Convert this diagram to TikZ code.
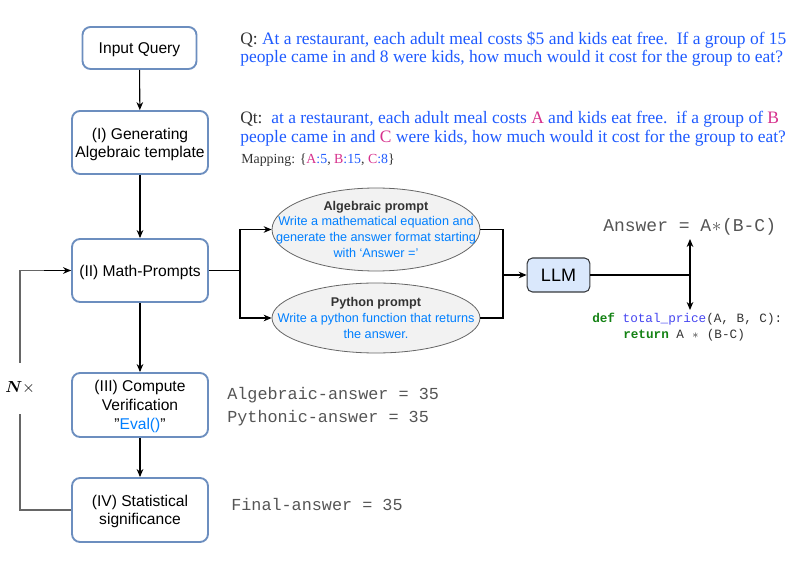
\documentclass[tikz,border=0pt]{standalone}
\usepackage{fontspec}
\usepackage{amsmath,amssymb}
\setmainfont{Liberation Serif}
\setsansfont{Liberation Sans}
\setmonofont{Liberation Mono}
\usetikzlibrary{shapes.geometric,arrows.meta}
\definecolor{boxblue}{HTML}{6C8EBF}
\definecolor{llmfill}{HTML}{DAE8FC}
\definecolor{llmdraw}{HTML}{36393D}
\definecolor{ellfill}{HTML}{F2F2F2}
\definecolor{elldraw}{HTML}{666666}
\definecolor{promptblue}{HTML}{007FFF}
\definecolor{qblue}{RGB}{30,90,255}
\definecolor{qmag}{RGB}{214,48,140}
\definecolor{qdark}{HTML}{333333}
\definecolor{monogray}{HTML}{555555}
\definecolor{codegreen}{RGB}{20,130,20}
\definecolor{codeblue}{RGB}{70,70,240}
\definecolor{loopgray}{HTML}{666666}
\tikzset{
  stagebox/.style={draw=boxblue, line width=1.4pt, rounded corners=6pt, fill=white,
    align=center, font=\sffamily\fontsize{11.7}{13.5}\selectfont, inner sep=2pt, text depth=0pt},
  promptell/.style={ellipse, draw=elldraw, fill=ellfill, line width=0.6pt,
    minimum width=156pt, align=center, inner xsep=-22pt, inner ysep=-8pt},
  llmbox/.style={draw=llmdraw, fill=llmfill, line width=0.8pt, rounded corners=4pt,
    minimum width=47pt, minimum height=25.5pt, font=\sffamily\fontsize{13.5}{15}\selectfont},
  conn/.style={line width=0.8pt, black},
  arr/.style={conn, -{Stealth[length=6pt,width=5pt]}},
  qtext/.style={anchor=base west, inner sep=0pt, font=\fontsize{13.1}{15}\selectfont, text=qblue},
  monotext/.style={anchor=base west, inner sep=0pt, font=\ttfamily\fontsize{12.6}{14}\selectfont, text=monogray},
  codetext/.style={anchor=base west, inner sep=0pt, font=\ttfamily\fontsize{9.5}{11}\selectfont, text=qdark},
}
\begin{document}
\begin{tikzpicture}[x=0.75pt,y=-0.75pt]
\useasboundingbox (0,0) rectangle (804,577);

% stage boxes
\node[stagebox, minimum width=85.5pt, minimum height=31.5pt] (input) at (139.5,48) {Input Query};
\node[stagebox, minimum width=102pt, minimum height=47.25pt] (gen) at (140,142.5) {(I) Generating\\Algebraic template};
\node[stagebox, minimum width=102pt, minimum height=47.25pt] (math) at (140,270.5) {(II) Math-Prompts};
\node[stagebox, minimum width=102pt, minimum height=48pt, font=\sffamily\fontsize{11.7}{14}\selectfont] (comp) at (140,405) {(III) Compute\\Verification\\"\textcolor{promptblue}{Eval()}"};
\node[stagebox, minimum width=102pt, minimum height=48pt] (stat) at (140,510) {(IV) Statistical\\significance};

% prompt ellipses
\node[promptell, minimum height=62.25pt, font=\sffamily\fontsize{9.5}{12}\selectfont] (alg) at (376,229.5)
  {\textbf{\textcolor{qdark}{Algebraic prompt}}\\[-0.5pt]\textcolor{promptblue}{Write a mathematical equation and}\\\textcolor{promptblue}{generate the answer format starting}\\\textcolor{promptblue}{with `Answer ='}};
\node[promptell, minimum height=52.5pt, font=\sffamily\fontsize{9.5}{12}\selectfont] (py) at (376,318)
  {\textbf{\textcolor{qdark}{Python prompt}}\\\textcolor{promptblue}{Write a python function that returns}\\\textcolor{promptblue}{the answer.}};

% LLM
\node[llmbox] (llm) at (558.5,275) {LLM};

% loop label
\node[inner sep=1pt, font=\fontsize{12}{14}\selectfont] (nx) at (20,388) {$\boldsymbol{N}{\times}$};

% coordinates
\coordinate (split) at (240,270.5);
\coordinate (join) at (503,275);
\coordinate (tee) at (690,275);
\coordinate (ansup) at (690,239);
\coordinate (ansdown) at (690,310);
\coordinate (looptop) at (20,363);
\coordinate (loopbot) at (20,414);

% vertical flow
\draw[arr] (input) -- (gen);
\draw[arr] (gen) -- (math);
\draw[arr] (math) -- (comp);
\draw[arr] (comp) -- (stat);

% loop
\draw[line width=0.8pt, loopgray] (stat.west) -| (loopbot);
\draw[line width=0.8pt, loopgray] (looptop) |- (math.west);
\draw[arr] ([xshift=-20pt]math.west) -- (math.west);

% prompts
\draw[conn] (math.east) -- (split);
\draw[arr] (split) |- (alg.west);
\draw[arr] (split) |- (py.west);
\draw[conn] (alg.east) -| (join);
\draw[conn] (py.east) -| (join);
\draw[arr] (join) -- (llm.west);
\draw[conn] (llm.east) -- (tee);
\draw[conn, {Stealth[length=6pt,width=5pt]}-{Stealth[length=6pt,width=5pt]}] (ansup) -- (ansdown);

% question texts
\node[qtext] (q1) at (240,45) {\textcolor{qdark}{Q:} At a restaurant, each adult meal costs \$5 and kids eat free.\ \ If a group of 15};
\node[qtext] (q2) at (240,63) {people came in and 8 were kids, how much would it cost for the group to eat?};
\node[qtext] (qt1) at (240,124) {\textcolor{qdark}{Qt:}\ \ at a restaurant, each adult meal costs \textcolor{qmag}{A} and kids eat free.\ \ if a group of \textcolor{qmag}{B}};
\node[qtext] (qt2) at (240,143) {people came in and \textcolor{qmag}{C} were kids, how much would it cost for the group to eat?};
\node[qtext, text=qdark, font=\fontsize{10.4}{12}\selectfont] (map) at (241,164) {Mapping: \{\textcolor{qmag}{A}\textcolor{qblue}{:5}, \textcolor{qmag}{B}\textcolor{qblue}{:15}, \textcolor{qmag}{C}\textcolor{qblue}{:8}\}};

% answers
\node[monotext, font=\ttfamily\fontsize{13.5}{15}\selectfont] (ans) at (603,232) {Answer = A\makebox[0.6em]{$\ast$}(B-C)};
\node[codetext] (code1) at (592,323) {\textbf{\textcolor{codegreen}{def}} \textcolor{codeblue}{total\_price}(A, B, C):};
\node[codetext] (code2) at (623,339) {\textbf{\textcolor{codegreen}{return}} A \makebox[0.6em]{$\ast$} (B-C)};
\node[monotext] (aa) at (227,400) {Algebraic-answer = 35};
\node[monotext] (pa) at (227,423) {Pythonic-answer = 35};
\node[monotext] (fa) at (231,510) {Final-answer = 35};
\end{tikzpicture}
\end{document}
